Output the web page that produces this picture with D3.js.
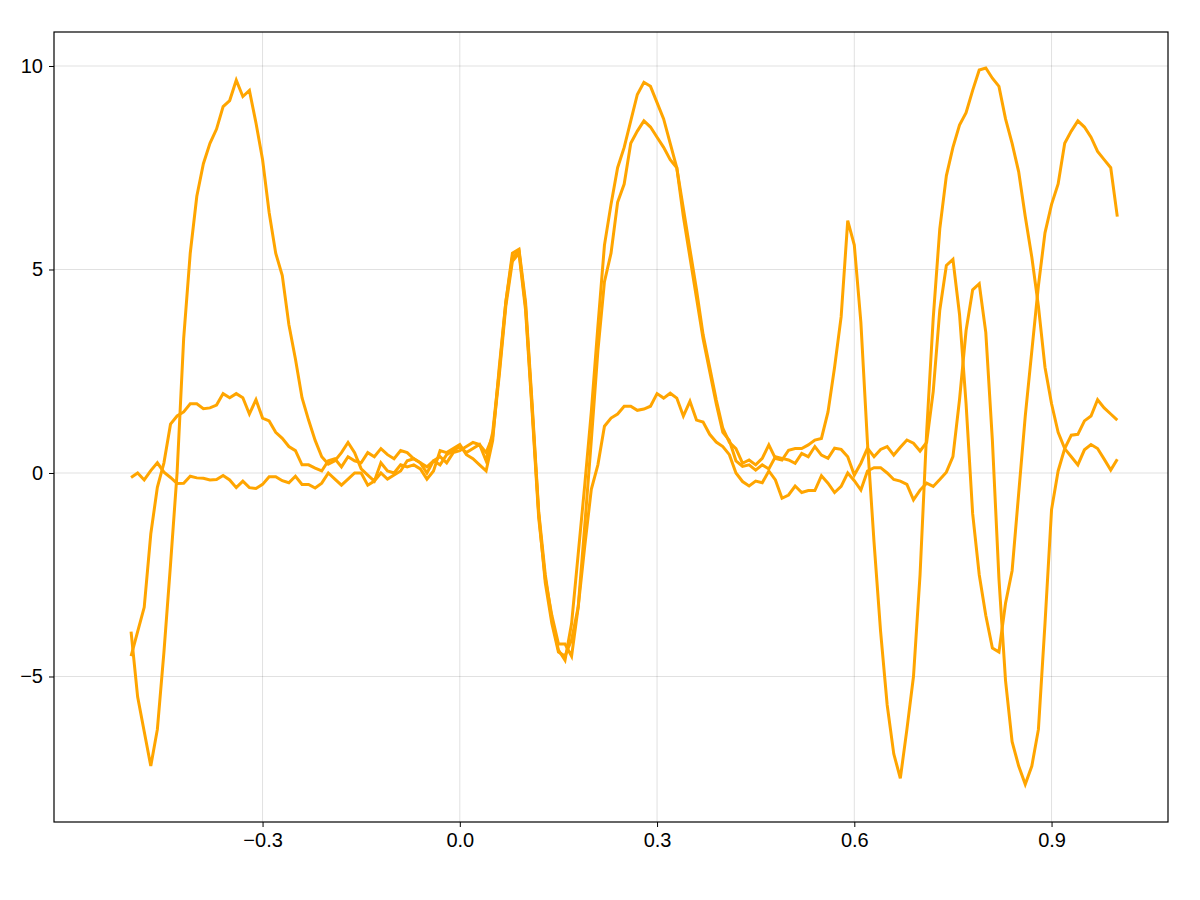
<!DOCTYPE html>
<html>
<head>
<meta charset="utf-8">
<script src="https://cdn.jsdelivr.net/npm/d3@7"></script>
<style>
  body { margin: 0; background: #fff; }
  text { font-family: "Liberation Sans", Arial, sans-serif; }
</style>
</head>
<body>
<svg id="chart" width="1200" height="900"></svg>
<script>
// x positions, -0.5 .. 1.0 in steps of 0.01
var xs = d3.range(151).map(function(i){ return Math.round((-0.5 + i*0.01)*100)/100; });

var series1 = [
  -3.9,-5.5,-6.35,-7.2,-6.3,-4.4,-2.25,0.0,3.3,5.4,6.8,7.6,8.1,8.45,9.0,9.15,9.65,9.25,9.4,8.6,7.7,6.4,5.4,4.85,3.65,2.8,1.85,1.3,0.8,0.4,0.22,
  0.3,0.5,0.75,0.5,0.1,-0.05,-0.2,0.25,0.05,0.0,0.2,0.15,0.2,0.1,-0.15,0.05,0.55,0.5,0.6,0.7,0.45,0.35,
  0.2,0.05,0.8,2.6,4.2,5.4,5.5,4.2,1.7,-0.95,-2.5,-3.6,-4.35,-4.6,-3.7,-2.0,-0.3,1.5,3.6,5.6,6.6,7.5,8.0,8.65,9.3,9.6,9.5,9.1,8.7,8.1,7.5,6.5,5.5,4.5,3.4,2.6,1.8,1.1,
  0.75,0.6,0.24,0.32,0.2,0.36,0.69,0.36,0.32,0.56,0.6,0.6,0.69,0.81,0.85,1.5,2.6,3.84,6.2,5.6,3.7,0.75,-1.7,-3.9,-5.7,-6.9,-7.5,-6.3,-5.0,
  -2.5,1.0,3.8,6.0,7.3,8.0,8.55,8.85,9.4,9.9,9.95,9.7,9.5,8.7,8.1,7.4,6.3,5.3,4.1,2.6,1.7,1.0,0.6,0.4,0.2,0.57,0.7,0.6,0.34,0.07,0.34
];
var series2 = [
  -4.5,-3.9,-3.3,-1.5,-0.35,0.25,1.2,1.4,1.5,1.7,1.7,1.58,1.6,1.67,1.95,1.85,1.95,1.85,1.45,1.8,1.35,1.28,1.0,0.85,0.65,0.55,0.2,0.2,0.12,0.05,0.3,
  0.35,0.15,0.4,0.3,0.25,0.5,0.4,0.6,0.45,0.35,0.55,0.5,0.35,0.25,0.0,0.3,0.4,0.25,0.5,0.55,0.65,0.75,
  0.7,0.5,0.9,2.4,4.1,5.2,5.4,4.0,1.5,-1.1,-2.6,-3.5,-4.2,-4.2,-4.5,-3.3,-1.3,0.8,3.0,4.7,5.4,6.65,7.1,8.1,8.4,8.65,8.5,8.25,8.0,7.7,7.5,6.3,5.3,4.3,3.3,2.5,1.7,1.0,
  0.8,0.3,0.16,0.2,0.07,0.2,0.1,0.4,0.36,0.32,0.24,0.48,0.4,0.65,0.44,0.36,0.61,0.58,0.4,-0.05,0.24,0.61,0.4,0.58,0.65,0.44,0.63,0.81,0.73,
  0.54,0.75,2.0,4.0,5.1,5.25,3.9,1.7,-1.0,-2.5,-3.5,-4.3,-4.4,-3.2,-2.4,-0.5,1.4,3.0,4.6,5.9,6.6,7.1,8.1,8.4,8.65,8.5,8.25,7.9,7.7,7.5,6.3
];
var series3 = [
  -0.11,0.0,-0.17,0.06,0.25,0.02,-0.11,-0.26,-0.25,-0.08,-0.12,-0.13,-0.17,-0.16,-0.06,-0.17,-0.36,-0.2,-0.36,-0.38,-0.28,-0.09,-0.09,-0.19,-0.24,-0.08,-0.28,-0.28,-0.37,-0.25,0.0,
  -0.15,-0.3,-0.15,0.0,0.0,-0.3,-0.2,0.0,-0.15,-0.05,0.05,0.3,0.35,0.25,0.15,0.3,0.2,0.45,0.55,0.65,0.5,0.6,
  0.7,0.3,1.0,2.5,4.2,5.3,5.45,4.1,1.6,-1.0,-2.7,-3.7,-4.4,-4.5,-4.1,-3.3,-1.8,-0.4,0.2,1.15,1.35,1.45,1.64,1.64,1.54,1.57,1.64,1.95,1.84,1.96,1.84,1.4,1.76,1.3,1.25,0.95,0.76,0.65,
  0.45,0.0,-0.21,-0.32,-0.2,-0.24,0.05,-0.17,-0.62,-0.54,-0.32,-0.48,-0.43,-0.43,-0.07,-0.25,-0.48,-0.33,0.0,-0.19,-0.42,0.05,0.13,0.13,0.0,-0.16,-0.2,-0.28,-0.66,
  -0.42,-0.25,-0.33,-0.16,0.02,0.4,1.8,3.5,4.5,4.65,3.45,0.8,-2.6,-5.1,-6.6,-7.2,-7.65,-7.2,-6.3,-3.7,-0.9,0.05,0.6,0.93,0.95,1.28,1.4,1.8,1.6,1.45,1.3
];
var xTicks = [-0.3, 0.0, 0.3, 0.6, 0.9];
var yTicks = [-5, 0, 5, 10];

var svg = d3.select("#chart");
var padL = 54, padR = 1168, padT = 32, padB = 822;

var x = d3.scaleLinear().domain([-0.6172, 1.0771]).range([padL, padR]);
var y = d3.scaleLinear().domain([-8.575, 10.835]).range([padB, padT]);

function fmt(v, d){ return v.toFixed(d).replace("-", "\u2212"); }

// grid
svg.append("g").selectAll("line").data(xTicks).enter().append("line")
  .attr("x1", function(d){ return x(d); }).attr("x2", function(d){ return x(d); })
  .attr("y1", padT).attr("y2", padB)
  .attr("stroke", "rgba(0,0,0,0.12)").attr("stroke-width", 1);
svg.append("g").selectAll("line").data(yTicks).enter().append("line")
  .attr("y1", function(d){ return y(d); }).attr("y2", function(d){ return y(d); })
  .attr("x1", padL).attr("x2", padR)
  .attr("stroke", "rgba(0,0,0,0.12)").attr("stroke-width", 1);

// lines
var line = d3.line().x(function(d, i){ return x(xs[i]); }).y(function(d){ return y(d); });
[series1, series2, series3].forEach(function(s){
  svg.append("path").datum(s).attr("d", line)
    .attr("fill", "none").attr("stroke", "#FFA500")
    .attr("stroke-width", 3).attr("stroke-linejoin", "miter");
});

// frame
svg.append("rect").attr("x", padL).attr("y", padT)
  .attr("width", padR-padL).attr("height", padB-padT)
  .attr("fill", "none").attr("stroke", "#000").attr("stroke-width", 1.2);

// axes
var xAxis = d3.axisBottom(x).tickValues(xTicks).tickSizeOuter(0).tickSize(5).tickPadding(6)
  .tickFormat(function(d){ return fmt(d, 1); });
var gx = svg.append("g").attr("transform", "translate(0," + padB + ")").call(xAxis);
var yAxis = d3.axisLeft(y).tickValues(yTicks).tickSizeOuter(0).tickSize(5).tickPadding(6)
  .tickFormat(function(d){ return fmt(d, 0); });
var gy = svg.append("g").attr("transform", "translate(" + padL + ",0)").call(yAxis);
[gx, gy].forEach(function(g){
  g.select(".domain").remove();
  g.selectAll("text").attr("font-size", 20).attr("fill", "#000")
    .style("font-family", "'Liberation Sans', Arial, sans-serif");
  g.selectAll("line").attr("stroke", "#000");
});
</script>
</body>
</html>
